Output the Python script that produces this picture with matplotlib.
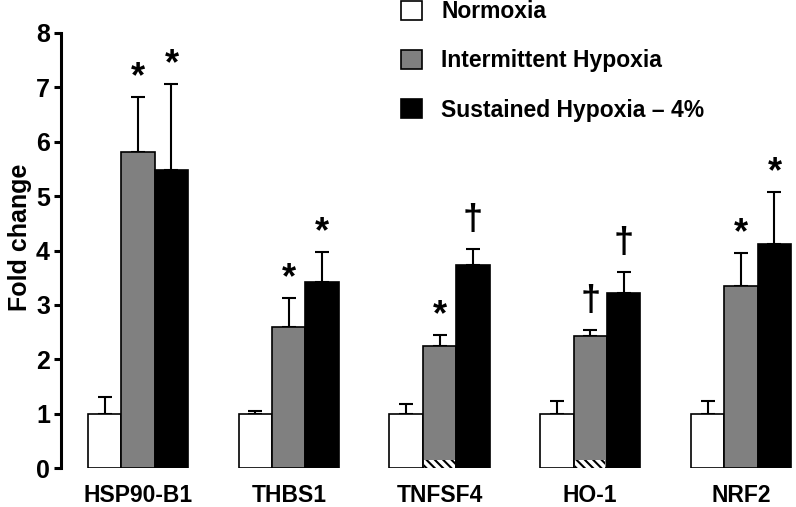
import numpy as np
import matplotlib
matplotlib.use('Agg')
import matplotlib.pyplot as plt
from matplotlib.patches import Patch

plt.rcParams['font.family'] = ['Liberation Sans', 'DejaVu Sans']
plt.rcParams['font.weight'] = 'bold'
plt.rcParams['hatch.linewidth'] = 1.5

genes = ['HSP90-B1', 'THBS1', 'TNFSF4', 'HO-1', 'NRF2']
series = ['Normoxia', 'Intermittent Hypoxia', 'Sustained Hypoxia \u2013 4%']

normoxia = [1.0, 1.0, 1.0, 1.0, 1.0]
normoxia_err = [0.30, 0.05, 0.18, 0.23, 0.23]
intermittent = [5.81, 2.59, 2.25, 2.43, 3.35]
intermittent_err = [1.01, 0.54, 0.19, 0.10, 0.60]
sustained = [5.48, 3.42, 3.73, 3.22, 4.12]
sustained_err = [1.58, 0.55, 0.30, 0.38, 0.95]

# significance marks per gene (intermittent, sustained)
marks_ih = ['*', '*', '*', '\u2020', '*']
marks_sh = ['*', '*', '\u2020', '\u2020', '*']

# hatched baseline segment inside the intermittent bar
hatch_ih = [0, 0, 0.15, 0.15, 0]

fig = plt.figure(figsize=(7.96, 5.07), dpi=100)
ax = fig.add_axes([61 / 796, 1 - 468 / 507, 1 - 61 / 796, 435 / 507])

x = np.arange(len(genes))
w = 0.222
colors = ['white', '#808080', 'black']
values = [normoxia, intermittent, sustained]
errors = [normoxia_err, intermittent_err, sustained_err]

for k in range(3):
    xs = x + (k - 1) * w
    ax.bar(xs, values[k], w, color=colors[k], edgecolor='black', linewidth=1.2, zorder=2)
    ax.errorbar(xs, values[k], yerr=[np.zeros(len(genes)), errors[k]], fmt='none',
                ecolor='black', elinewidth=1.5, capsize=5, capthick=1.5, zorder=1)

ax.bar(x, hatch_ih, w * 0.9, color='white', edgecolor='black', hatch='\\\\\\\\',
       linewidth=0, zorder=3)

for i in range(len(genes)):
    for k, marks in ((1, marks_ih), (2, marks_sh)):
        top = values[k][i] + errors[k][i]
        m = marks[i]
        off = 1.5 if m == '*' else 8
        ax.annotate(m, (x[i] + (k - 1) * w, top), xytext=(0, off), textcoords='offset points',
                    ha='center', va='bottom', fontsize=26, fontweight='bold')

ax.set_ylim(0, 8)
ax.set_xlim((61 - 138) / 150.75, (796 - 138) / 150.75)
ax.set_yticks(range(0, 9))
ax.set_xticks(x)
ax.set_xticklabels(genes, fontsize=16.5, fontweight='bold')
ax.tick_params(axis='x', length=0, pad=11.5)
ax.tick_params(axis='y', length=5, width=2.2, labelsize=18, pad=3)
for s in ['top', 'right', 'bottom']:
    ax.spines[s].set_visible(False)
ax.spines['left'].set_linewidth(2.2)
ax.set_ylabel('Fold change', fontsize=18, fontweight='bold')
ax.yaxis.set_label_coords(-0.039, 0.531)

handles = [Patch(facecolor=c, edgecolor='black', linewidth=1.2) for c in colors]
ax.legend(handles, series, loc='upper left', bbox_to_anchor=(401 / 796, 1.0),
          bbox_transform=fig.transFigure, frameon=False, fontsize=16.5,
          handlelength=0.9, handleheight=0.9, handletextpad=0.85, labelspacing=1.15,
          borderaxespad=0, borderpad=0)

plt.savefig('out.png', dpi=100)
